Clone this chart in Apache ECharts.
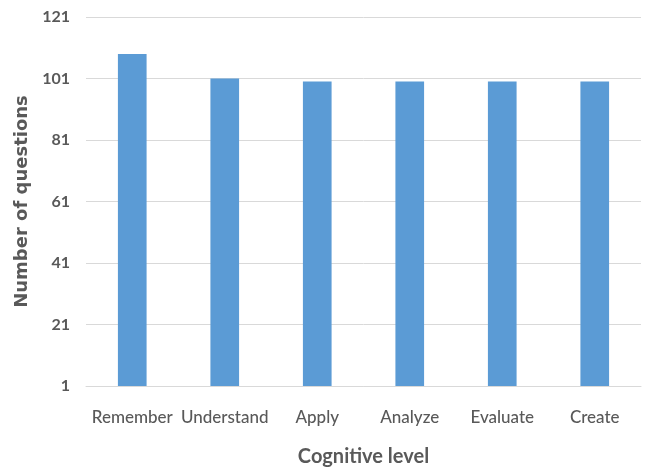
<!DOCTYPE html>
<html>
<head>
<meta charset="utf-8">
<script src="https://cdn.jsdelivr.net/npm/echarts@6/dist/echarts.min.js"></script>
<style>
  html, body { margin: 0; padding: 0; background: #fff; }
  #chart { width: 647px; height: 472px; }
</style>
</head>
<body>
<div id="chart"></div>
<script>
// Number of questions per cognitive level
const categories = ['Remember', 'Understand', 'Apply', 'Analyze', 'Evaluate', 'Create'];
const questionCounts = [109, 101, 100, 100, 100, 100];
const yMin = 1;
const yMax = 121;
const yStep = 20;

const chart = echarts.init(document.getElementById('chart'), null, { renderer: 'canvas' });
const font = 'Lato, "Open Sans", sans-serif';
const textGrey = '#595959';

chart.setOption({
  animation: false,
  grid: { left: 86, right: 6, top: 17, bottom: 86 },
  xAxis: {
    type: 'category',
    data: categories,
    name: 'Cognitive level',
    nameLocation: 'middle',
    nameGap: 61,
    nameTextStyle: { fontFamily: font, fontSize: 20, fontWeight: 'bold', color: textGrey },
    axisLine: { lineStyle: { color: '#d9d9d9', width: 1 } },
    axisTick: { show: false },
    axisLabel: { fontFamily: font, fontSize: 17, fontWeight: 500, color: textGrey, margin: 23, interval: 0 }
  },
  yAxis: {
    type: 'value',
    min: yMin,
    max: yMax,
    interval: yStep,
    name: 'Number of questions',
    nameLocation: 'middle',
    nameGap: 52,
    nameTextStyle: { fontFamily: '"DejaVu Sans", sans-serif', fontSize: 18, fontWeight: 'bold', color: textGrey },
    axisLine: { show: false },
    axisTick: { show: false },
    axisLabel: { fontFamily: font, fontSize: 16, fontWeight: 'bold', color: textGrey, margin: 16 },
    splitLine: { lineStyle: { color: '#d9d9d9', width: 1 } }
  },
  series: [{
    type: 'bar',
    data: questionCounts,
    barWidth: '31%',
    itemStyle: { color: '#5b9bd5' }
  }]
});
</script>
</body>
</html>
